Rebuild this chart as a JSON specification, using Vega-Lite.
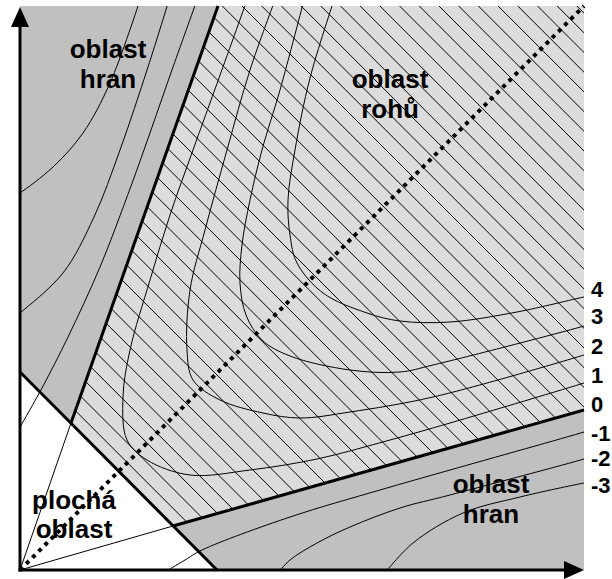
{
  "$schema": "https://vega.github.io/schema/vega-lite/v6.json",
  "width": 564,
  "height": 564,
  "autosize": {"type": "none"},
  "padding": {"left": 20, "top": 6, "right": 28, "bottom": 9},
  "background": "white",
  "config": {"view": {"stroke": null}},
  "layer": [
    {
      "data": {"values": [{"x": 0, "x2": 564, "y": 0, "y2": 564}]},
      "mark": {"type": "rect", "color": "#dcdcdc"},
      "encoding": {
        "x": {"field": "x", "type": "quantitative", "scale": {"domain": [0, 564], "nice": false, "zero": false}, "axis": null},
        "x2": {"field": "x2"},
        "y": {"field": "y", "type": "quantitative", "scale": {"domain": [0, 564], "nice": false, "zero": false}, "axis": null},
        "y2": {"field": "y2"}
      }
    },
    {
      "data": {"values": [
        {"x": -424.7, "x2": 175.3}, {"x": -405, "x2": 195}, {"x": -385.3, "x2": 214.7}, {"x": -365.6, "x2": 234.4},
        {"x": -345.9, "x2": 254.1}, {"x": -326.2, "x2": 273.8}, {"x": -306.5, "x2": 293.5}, {"x": -286.8, "x2": 313.2},
        {"x": -267.1, "x2": 332.9}, {"x": -247.4, "x2": 352.6}, {"x": -227.7, "x2": 372.3}, {"x": -208, "x2": 392},
        {"x": -188.3, "x2": 411.7}, {"x": -168.6, "x2": 431.4}, {"x": -148.9, "x2": 451.1}, {"x": -129.2, "x2": 470.8},
        {"x": -109.5, "x2": 490.5}, {"x": -89.8, "x2": 510.2}, {"x": -70.1, "x2": 529.9}, {"x": -50.4, "x2": 549.6},
        {"x": -30.7, "x2": 569.3}, {"x": -11, "x2": 589}, {"x": 8.7, "x2": 608.7}, {"x": 28.4, "x2": 628.4},
        {"x": 48.1, "x2": 648.1}, {"x": 67.8, "x2": 667.8}, {"x": 87.5, "x2": 687.5}, {"x": 107.2, "x2": 707.2},
        {"x": 126.9, "x2": 726.9}, {"x": 146.6, "x2": 746.6}, {"x": 166.3, "x2": 766.3}, {"x": 186, "x2": 786},
        {"x": 205.7, "x2": 805.7}, {"x": 225.4, "x2": 825.4}, {"x": 245.1, "x2": 845.1}, {"x": 264.8, "x2": 864.8},
        {"x": 284.5, "x2": 884.5}, {"x": 304.2, "x2": 904.2}, {"x": 323.9, "x2": 923.9}, {"x": 343.6, "x2": 943.6},
        {"x": 363.3, "x2": 963.3}, {"x": 383, "x2": 983}, {"x": 402.7, "x2": 1002.7}, {"x": 422.4, "x2": 1022.4},
        {"x": 442.1, "x2": 1042.1}, {"x": 461.8, "x2": 1061.8}, {"x": 481.5, "x2": 1081.5}, {"x": 501.2, "x2": 1101.2},
        {"x": 520.9, "x2": 1120.9}
      ]},
      "mark": {"type": "rule", "color": "black", "strokeWidth": 1, "clip": true},
      "encoding": {
        "x": {"field": "x", "type": "quantitative", "scale": {"domain": [0, 564], "nice": false, "zero": false}, "axis": null},
        "x2": {"field": "x2"},
        "y": {"datum": 600, "type": "quantitative", "scale": {"domain": [0, 564], "nice": false, "zero": false}, "axis": null},
        "y2": {"datum": 0}
      }
    },
    {
      "data": {"values": [
        {"y": 147, "x": 51, "x2": 51},
        {"y": 198, "x": 0, "x2": 69},
        {"y": 564, "x": 0, "x2": 198}
      ]},
      "mark": {"type": "area", "orient": "horizontal", "color": "#c0c0c0"},
      "encoding": {
        "y": {"field": "y", "type": "quantitative", "scale": {"domain": [0, 564], "nice": false, "zero": false}, "axis": null},
        "x": {"field": "x", "type": "quantitative", "scale": {"domain": [0, 564], "nice": false, "zero": false}, "axis": null},
        "x2": {"field": "x2"}
      }
    },
    {
      "data": {"values": [
        {"x": 153, "y": 44, "y2": 44},
        {"x": 197, "y": 0, "y2": 56.4},
        {"x": 564, "y": 0, "y2": 160}
      ]},
      "mark": {"type": "area", "orient": "vertical", "color": "#c0c0c0"},
      "encoding": {
        "x": {"field": "x", "type": "quantitative", "scale": {"domain": [0, 564], "nice": false, "zero": false}, "axis": null},
        "y": {"field": "y", "type": "quantitative", "scale": {"domain": [0, 564], "nice": false, "zero": false}, "axis": null},
        "y2": {"field": "y2"}
      }
    },
    {
      "data": {"values": [
        {"x": 0, "y": 0, "y2": 198},
        {"x": 197, "y": 0, "y2": 0}
      ]},
      "mark": {"type": "area", "orient": "vertical", "color": "white"},
      "encoding": {
        "x": {"field": "x", "type": "quantitative", "scale": {"domain": [0, 564], "nice": false, "zero": false}, "axis": null},
        "y": {"field": "y", "type": "quantitative", "scale": {"domain": [0, 564], "nice": false, "zero": false}, "axis": null},
        "y2": {"field": "y2"}
      }
    },
    {
      "data": {"values": [
        {"c": "c1", "i": 0, "x": 227, "y": 570}, {"c": "c1", "i": 1, "x": 199, "y": 492}, {"c": "c1", "i": 2, "x": 173, "y": 420},
        {"c": "c1", "i": 3, "x": 150, "y": 355}, {"c": "c1", "i": 4, "x": 130, "y": 290}, {"c": "c1", "i": 5, "x": 110, "y": 220},
        {"c": "c1", "i": 6, "x": 103, "y": 173}, {"c": "c1", "i": 7, "x": 107, "y": 130}, {"c": "c1", "i": 8, "x": 127, "y": 110},
        {"c": "c1", "i": 9, "x": 170, "y": 95}, {"c": "c1", "i": 10, "x": 230, "y": 100}, {"c": "c1", "i": 11, "x": 297, "y": 111},
        {"c": "c1", "i": 12, "x": 370, "y": 130}, {"c": "c1", "i": 13, "x": 430, "y": 147}, {"c": "c1", "i": 14, "x": 564, "y": 187},
        {"c": "c1", "i": 15, "x": 570, "y": 189},

        {"c": "c2", "i": 0, "x": 255, "y": 570}, {"c": "c2", "i": 1, "x": 230, "y": 500}, {"c": "c2", "i": 2, "x": 207, "y": 420},
        {"c": "c2", "i": 3, "x": 185, "y": 340}, {"c": "c2", "i": 4, "x": 170, "y": 280}, {"c": "c2", "i": 5, "x": 167, "y": 220},
        {"c": "c2", "i": 6, "x": 173, "y": 190}, {"c": "c2", "i": 7, "x": 200, "y": 170}, {"c": "c2", "i": 8, "x": 243, "y": 157},
        {"c": "c2", "i": 9, "x": 280, "y": 152}, {"c": "c2", "i": 10, "x": 330, "y": 158}, {"c": "c2", "i": 11, "x": 413, "y": 173},
        {"c": "c2", "i": 12, "x": 564, "y": 215}, {"c": "c2", "i": 13, "x": 570, "y": 217},

        {"c": "c3", "i": 0, "x": 284, "y": 570}, {"c": "c3", "i": 1, "x": 260, "y": 480}, {"c": "c3", "i": 2, "x": 242, "y": 420},
        {"c": "c3", "i": 3, "x": 230, "y": 370}, {"c": "c3", "i": 4, "x": 222, "y": 325}, {"c": "c3", "i": 5, "x": 220, "y": 287},
        {"c": "c3", "i": 6, "x": 226, "y": 255}, {"c": "c3", "i": 7, "x": 242, "y": 230}, {"c": "c3", "i": 8, "x": 270, "y": 214},
        {"c": "c3", "i": 9, "x": 330, "y": 200}, {"c": "c3", "i": 10, "x": 380, "y": 198}, {"c": "c3", "i": 11, "x": 413, "y": 205},
        {"c": "c3", "i": 12, "x": 564, "y": 244}, {"c": "c3", "i": 13, "x": 570, "y": 246},

        {"c": "c4", "i": 0, "x": 314, "y": 570}, {"c": "c4", "i": 1, "x": 290, "y": 492}, {"c": "c4", "i": 2, "x": 275, "y": 420},
        {"c": "c4", "i": 3, "x": 268, "y": 370}, {"c": "c4", "i": 4, "x": 270, "y": 335}, {"c": "c4", "i": 5, "x": 277, "y": 307},
        {"c": "c4", "i": 6, "x": 303, "y": 277}, {"c": "c4", "i": 7, "x": 347, "y": 257}, {"c": "c4", "i": 8, "x": 380, "y": 249},
        {"c": "c4", "i": 9, "x": 430, "y": 248}, {"c": "c4", "i": 10, "x": 497, "y": 258}, {"c": "c4", "i": 11, "x": 564, "y": 273},
        {"c": "c4", "i": 12, "x": 570, "y": 274},

        {"c": "m1a", "i": 0, "x": 177, "y": 570}, {"c": "m1a", "i": 1, "x": 153, "y": 503}, {"c": "m1a", "i": 2, "x": 131, "y": 440},
        {"c": "m1a", "i": 3, "x": 111, "y": 384}, {"c": "m1a", "i": 4, "x": 80, "y": 303}, {"c": "m1a", "i": 5, "x": 48, "y": 233},
        {"c": "m1a", "i": 6, "x": 22, "y": 182}, {"c": "m1a", "i": 7, "x": 0, "y": 143}, {"c": "m1a", "i": 8, "x": -3, "y": 138},

        {"c": "m2a", "i": 0, "x": 149, "y": 570}, {"c": "m2a", "i": 1, "x": 128, "y": 503}, {"c": "m2a", "i": 2, "x": 100, "y": 420},
        {"c": "m2a", "i": 3, "x": 74, "y": 353}, {"c": "m2a", "i": 4, "x": 43, "y": 297}, {"c": "m2a", "i": 5, "x": 0, "y": 257},
        {"c": "m2a", "i": 6, "x": -5, "y": 253},

        {"c": "m3a", "i": 0, "x": 120, "y": 570}, {"c": "m3a", "i": 1, "x": 90, "y": 487}, {"c": "m3a", "i": 2, "x": 63, "y": 437},
        {"c": "m3a", "i": 3, "x": 33, "y": 403}, {"c": "m3a", "i": 4, "x": 0, "y": 377}, {"c": "m3a", "i": 5, "x": -5, "y": 374},

        {"c": "m1b", "i": 0, "x": 145, "y": -2}, {"c": "m1b", "i": 1, "x": 165, "y": 10}, {"c": "m1b", "i": 2, "x": 182, "y": 20},
        {"c": "m1b", "i": 3, "x": 270, "y": 53}, {"c": "m1b", "i": 4, "x": 360, "y": 80}, {"c": "m1b", "i": 5, "x": 430, "y": 100},
        {"c": "m1b", "i": 6, "x": 564, "y": 138}, {"c": "m1b", "i": 7, "x": 570, "y": 140},

        {"c": "m2b", "i": 0, "x": 257, "y": -4}, {"c": "m2b", "i": 1, "x": 270, "y": 10}, {"c": "m2b", "i": 2, "x": 297, "y": 27},
        {"c": "m2b", "i": 3, "x": 330, "y": 43}, {"c": "m2b", "i": 4, "x": 380, "y": 62}, {"c": "m2b", "i": 5, "x": 430, "y": 75},
        {"c": "m2b", "i": 6, "x": 564, "y": 111}, {"c": "m2b", "i": 7, "x": 570, "y": 113},

        {"c": "m3b", "i": 0, "x": 364, "y": -4}, {"c": "m3b", "i": 1, "x": 393, "y": 27}, {"c": "m3b", "i": 2, "x": 443, "y": 57},
        {"c": "m3b", "i": 3, "x": 500, "y": 73}, {"c": "m3b", "i": 4, "x": 564, "y": 87}, {"c": "m3b", "i": 5, "x": 570, "y": 88}
      ]},
      "mark": {"type": "line", "color": "black", "strokeWidth": 1, "interpolate": "catmull-rom", "clip": true},
      "encoding": {
        "x": {"field": "x", "type": "quantitative", "scale": {"domain": [0, 564], "nice": false, "zero": false}, "axis": null},
        "y": {"field": "y", "type": "quantitative", "scale": {"domain": [0, 564], "nice": false, "zero": false}, "axis": null},
        "detail": {"field": "c", "type": "nominal"},
        "order": {"field": "i", "type": "quantitative"}
      }
    },
    {
      "data": {"values": [
        {"x": 0, "y": 0, "x2": 51, "y2": 147},
        {"x": 0, "y": 0, "x2": 153, "y2": 44}
      ]},
      "mark": {"type": "rule", "color": "black", "strokeWidth": 1},
      "encoding": {
        "x": {"field": "x", "type": "quantitative", "scale": {"domain": [0, 564], "nice": false, "zero": false}, "axis": null},
        "y": {"field": "y", "type": "quantitative", "scale": {"domain": [0, 564], "nice": false, "zero": false}, "axis": null},
        "x2": {"field": "x2"},
        "y2": {"field": "y2"}
      }
    },
    {
      "data": {"values": [
        {"x": 198, "y": 564, "x2": 51, "y2": 147},
        {"x": 0, "y": 198, "x2": 197, "y2": 0},
        {"x": 153, "y": 44, "x2": 564, "y2": 160}
      ]},
      "mark": {"type": "rule", "color": "black", "strokeWidth": 3, "strokeCap": "butt"},
      "encoding": {
        "x": {"field": "x", "type": "quantitative", "scale": {"domain": [0, 564], "nice": false, "zero": false}, "axis": null},
        "y": {"field": "y", "type": "quantitative", "scale": {"domain": [0, 564], "nice": false, "zero": false}, "axis": null},
        "x2": {"field": "x2"},
        "y2": {"field": "y2"}
      }
    },
    {
      "data": {"values": [{"x": 0, "y": 0, "x2": 564, "y2": 564}]},
      "mark": {"type": "rule", "color": "black", "strokeWidth": 4, "strokeDash": [4, 4.75], "strokeCap": "butt"},
      "encoding": {
        "x": {"field": "x", "type": "quantitative", "scale": {"domain": [0, 564], "nice": false, "zero": false}, "axis": null},
        "y": {"field": "y", "type": "quantitative", "scale": {"domain": [0, 564], "nice": false, "zero": false}, "axis": null},
        "x2": {"field": "x2"},
        "y2": {"field": "y2"}
      }
    },
    {
      "data": {"values": [
        {"x": 0, "y": 0, "x2": 0, "y2": 546},
        {"x": 0, "y": 0, "x2": 546, "y2": 0}
      ]},
      "mark": {"type": "rule", "color": "black", "strokeWidth": 3, "strokeCap": "square"},
      "encoding": {
        "x": {"field": "x", "type": "quantitative", "scale": {"domain": [0, 564], "nice": false, "zero": false}, "axis": null},
        "y": {"field": "y", "type": "quantitative", "scale": {"domain": [0, 564], "nice": false, "zero": false}, "axis": null},
        "x2": {"field": "x2"},
        "y2": {"field": "y2"}
      }
    },
    {
      "data": {"values": [{"x": 0, "y": 553, "a": "up"}]},
      "mark": {"type": "point", "shape": "M0,-1L0.9,1L-0.9,1Z", "size": 400, "filled": true, "color": "black", "opacity": 1, "strokeWidth": 0},
      "encoding": {
        "x": {"field": "x", "type": "quantitative", "scale": {"domain": [0, 564], "nice": false, "zero": false}, "axis": null},
        "y": {"field": "y", "type": "quantitative", "scale": {"domain": [0, 564], "nice": false, "zero": false}, "axis": null}
      }
    },
    {
      "data": {"values": [{"x": 554, "y": 0, "a": "right"}]},
      "mark": {"type": "point", "shape": "M1,0L-1,0.9L-1,-0.9Z", "size": 400, "filled": true, "color": "black", "opacity": 1, "strokeWidth": 0},
      "encoding": {
        "x": {"field": "x", "type": "quantitative", "scale": {"domain": [0, 564], "nice": false, "zero": false}, "axis": null},
        "y": {"field": "y", "type": "quantitative", "scale": {"domain": [0, 564], "nice": false, "zero": false}, "axis": null}
      }
    },
    {
      "data": {"values": [
        {"t": "oblast", "x": 88, "y": 512},
        {"t": "hran", "x": 88, "y": 482},
        {"t": "oblast", "x": 370, "y": 482},
        {"t": "rohů", "x": 370, "y": 452},
        {"t": "plochá", "x": 54, "y": 61},
        {"t": "oblast", "x": 54, "y": 32},
        {"t": "oblast", "x": 471, "y": 77},
        {"t": "hran", "x": 471, "y": 47}
      ]},
      "mark": {"type": "text", "font": "Liberation Sans", "fontWeight": "bold", "fontSize": 26, "align": "center", "baseline": "alphabetic", "color": "black"},
      "encoding": {
        "x": {"field": "x", "type": "quantitative", "scale": {"domain": [0, 564], "nice": false, "zero": false}, "axis": null},
        "y": {"field": "y", "type": "quantitative", "scale": {"domain": [0, 564], "nice": false, "zero": false}, "axis": null},
        "text": {"field": "t"}
      }
    },
    {
      "data": {"values": [
        {"t": "4", "y": 280},
        {"t": "3", "y": 253},
        {"t": "2", "y": 223},
        {"t": "1", "y": 194},
        {"t": "0", "y": 165},
        {"t": "-1", "y": 136},
        {"t": "-2", "y": 111},
        {"t": "-3", "y": 84}
      ]},
      "mark": {"type": "text", "font": "Liberation Sans", "fontWeight": "bold", "fontSize": 22, "align": "left", "baseline": "middle", "color": "black"},
      "encoding": {
        "x": {"datum": 571, "type": "quantitative", "scale": {"domain": [0, 564], "nice": false, "zero": false}, "axis": null},
        "y": {"field": "y", "type": "quantitative", "scale": {"domain": [0, 564], "nice": false, "zero": false}, "axis": null},
        "text": {"field": "t"}
      }
    }
  ]
}
